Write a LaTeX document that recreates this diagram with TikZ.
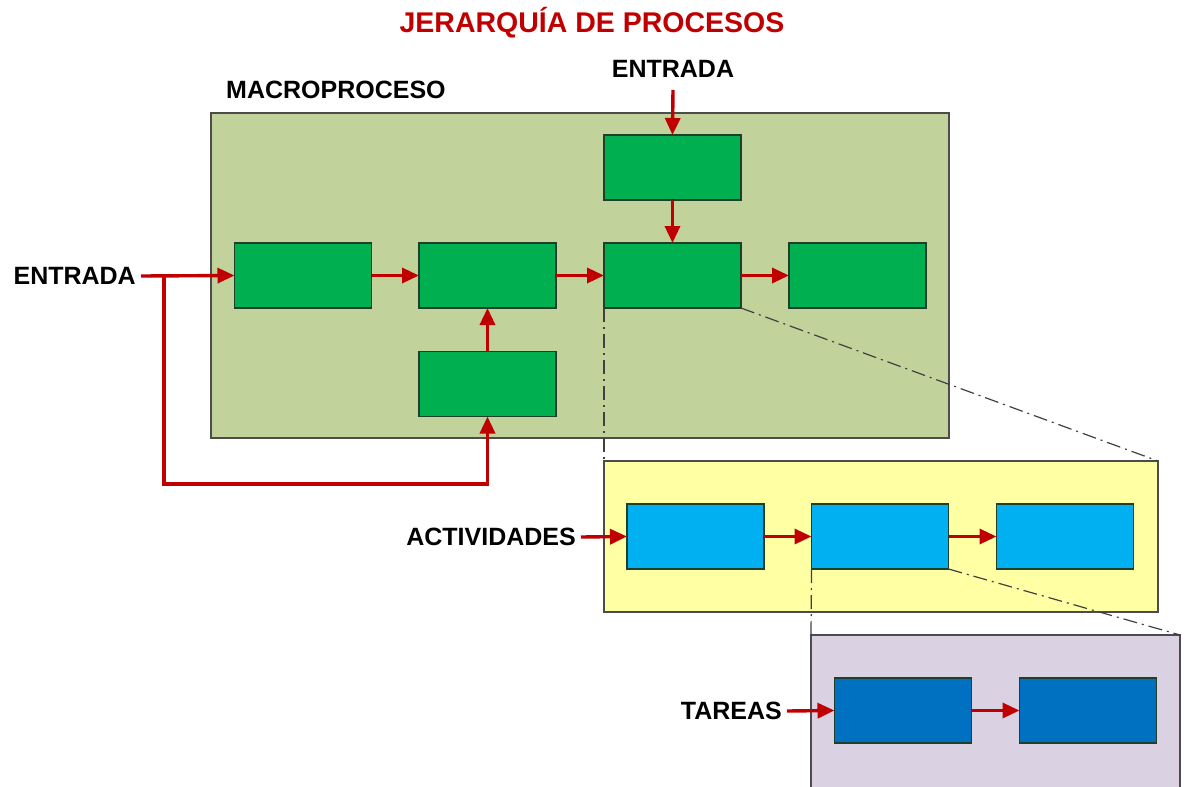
\documentclass[tikz,border=0pt]{standalone}
\usepackage{fontspec}
\setmainfont{Liberation Sans}
\usetikzlibrary{arrows.meta}
\definecolor{redA}{HTML}{C00000}
\definecolor{oliveF}{HTML}{C2D29B}
\definecolor{yelF}{HTML}{FFFFA4}
\definecolor{purF}{HTML}{DAD2E3}
\definecolor{grnF}{HTML}{00AF50}
\definecolor{bluF}{HTML}{00B0F0}
\definecolor{dblF}{HTML}{0070C0}
\definecolor{edgeC}{HTML}{1F3F2A}
\begin{document}
\begin{tikzpicture}[x=1pt,y=-1pt,
  container/.style={draw=black!70,line width=1.6pt,inner sep=0pt,outer sep=0pt},
  proc/.style={draw=edgeC,line width=1.5pt,inner sep=0pt,outer sep=0pt,minimum width=137pt,minimum height=65pt},
  gbox/.style={proc,fill=grnF},
  bbox/.style={proc,fill=bluF},
  dbox/.style={proc,fill=dblF},
  lbl/.style={font=\fontsize{25}{28}\selectfont\bfseries,inner sep=0pt},
  arr/.style={draw=redA,line width=3.4pt,-{Triangle[length=17pt,width=15pt]}},
  zoomline/.style={draw=black!75,line width=1.2pt,dash pattern=on 14pt off 5pt on 2pt off 5pt}]
\useasboundingbox (0,0) rectangle (1187,787);
% title
\node[font=\fontsize{28.5}{32}\selectfont\bfseries,text=redA,inner sep=0pt] (title) at (592,23) {JERARQUÍA DE PROCESOS};
% containers
\node[container,fill=oliveF,minimum width=738pt,minimum height=325pt] (macro) at (580,275.5) {};
\node[container,fill=yelF,minimum width=554pt,minimum height=151pt] (act) at (881,536.5) {};
\node[container,fill=purF,minimum width=369pt,minimum height=154pt] (tar) at (995.5,712) {};
% labels
\node[lbl,anchor=west] (mlab) at (226,90) {MACROPROCESO};
\node[lbl,anchor=east] (entL) at (136,276) {ENTRADA};
\node[lbl] (entT) at (673,69) {ENTRADA};
\node[lbl,anchor=east] (actL) at (576,537) {ACTIVIDADES};
\node[lbl,anchor=east] (tarL) at (782,711) {TAREAS};
% zoom lines
\node[gbox] (g3) at (672.5,275.5) {};
\draw[zoomline] (g3.south west) -- (act.north west);
\draw[zoomline] (g3.south east) -- (act.north east);
\node[bbox] (b2) at (880,536.5) {};
\draw[zoomline] (b2.south west) -- (tar.north west);
\draw[zoomline] (b2.south east) -- (tar.north east);
% process boxes
\node[gbox] (g1) at (303,275.5) {};
\node[gbox] (g2) at (487.5,275.5) {};
\node[gbox] (g4) at (857.5,275.5) {};
\node[gbox] (gt) at (672.5,167.5) {};
\node[gbox] (gb) at (487.5,384) {};
\node[bbox] (b1) at (695.5,536.5) {};
\node[bbox] (b3) at (1065,536.5) {};
\node[dbox] (d1) at (903,710.5) {};
\node[dbox] (d2) at (1088,710.5) {};
% arrows
\coordinate (j) at (164,276);
\coordinate (c1) at (164,484);
\draw[arr] ([xshift=5pt]entL.east) -- (g1.west);
\draw[arr,-] (j) -- (c1) -| ([yshift=-20pt]gb.south);
\draw[arr] ([yshift=-20pt]gb.south) -- (gb.south);
\draw[arr] (g1) -- (g2);
\draw[arr] (g2) -- (g3);
\draw[arr] (g3) -- (g4);
\draw[arr] (gb) -- (g2);
\draw[arr] ([yshift=-12pt]entT.south) -- (gt.north);
\draw[arr] (gt) -- (g3);
\draw[arr] ([xshift=5pt]actL.east) -- (b1.west);
\draw[arr] (b1) -- (b2);
\draw[arr] (b2) -- (b3);
\draw[arr] ([xshift=5pt]tarL.east) -- (d1.west);
\draw[arr] (d1) -- (d2);
\end{tikzpicture}
\end{document}
